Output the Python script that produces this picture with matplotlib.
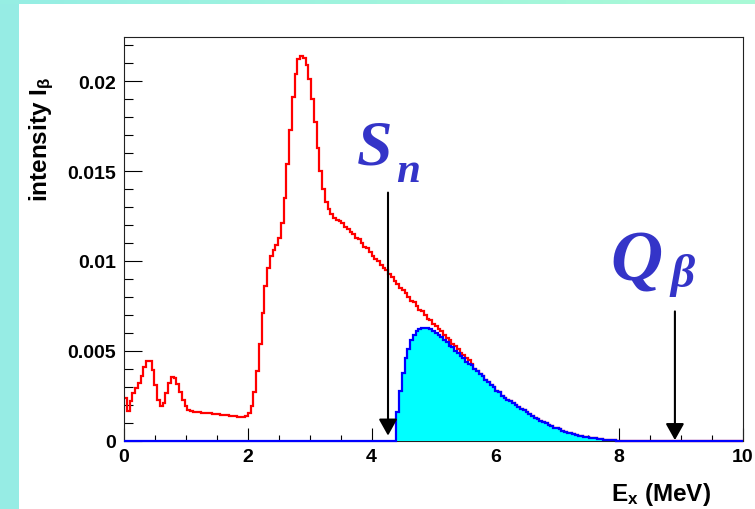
import numpy as np
import matplotlib
matplotlib.use("Agg")
import matplotlib.pyplot as plt
from matplotlib.patches import Rectangle

plt.rcParams['font.family'] = ['Liberation Sans', 'DejaVu Sans']
plt.rcParams['font.weight'] = 'bold'
plt.rcParams['mathtext.fontset'] = 'custom'
plt.rcParams['mathtext.rm'] = 'Liberation Sans:bold'
plt.rcParams['mathtext.bf'] = 'Liberation Sans:bold'
plt.rcParams['mathtext.it'] = 'Liberation Sans:bold'

# histogram binning: 225 bins on 0..10 MeV
n_bins = 225
x_min, x_max = 0.0, 10.0

# red curve (total intensity), bins 0..126
red_low = [0.00237, 0.00169, 0.00224, 0.00265, 0.00293, 0.00322, 0.00363, 0.00413,
           0.00446, 0.00446, 0.00396, 0.00313, 0.0023, 0.00193, 0.00211, 0.00265,
           0.00322, 0.00357, 0.0035, 0.00317, 0.00274, 0.0023, 0.00196]
red_flat = [0.00174, 0.00168, 0.0016, 0.0016, 0.0016, 0.00157, 0.00155, 0.00154,
            0.00153, 0.00152, 0.0015, 0.00148, 0.00146, 0.00144, 0.00143, 0.00141,
            0.0014, 0.00137, 0.00135, 0.00135, 0.00135, 0.0014]
red_rise = [0.00155, 0.00196, 0.0027, 0.0039, 0.0054, 0.0071, 0.0086, 0.0096,
            0.0103, 0.0106, 0.0109, 0.0113]
red_peak = [0.0121, 0.0135, 0.0154, 0.0173, 0.0191, 0.0204, 0.0212, 0.0214,
            0.0213, 0.0209, 0.0201, 0.0190, 0.0177, 0.0163, 0.0150, 0.0140,
            0.0133, 0.0129, 0.0126, 0.0124, 0.0123]
red_slope = [0.0122, 0.0121, 0.0119, 0.0118, 0.0116, 0.0115, 0.0113, 0.0112, 0.0110, 0.0108,
             0.0107, 0.0105, 0.0103, 0.0101, 0.0100, 0.0098, 0.0096, 0.0095, 0.0093, 0.0091,
             0.0089, 0.0087, 0.0085, 0.0084, 0.0082, 0.0080, 0.0078, 0.0077, 0.0075, 0.0073,
             0.0072, 0.0070, 0.0068, 0.0067, 0.0065, 0.0064, 0.0062, 0.0061, 0.0059, 0.0057,
             0.0056, 0.0054, 0.0053, 0.0051, 0.0049, 0.0048, 0.0046, 0.0045, 0.0043]

# blue curve (above Sn), bins 99..180
blue_start = 99
blue_vals = [0.0016, 0.0028, 0.0038, 0.0046, 0.0051, 0.0056, 0.0059, 0.0061, 0.0062, 0.0063,
             0.0063, 0.0063, 0.0062, 0.0061,
             0.0060, 0.0059, 0.0058, 0.0056, 0.0055, 0.0053, 0.0052, 0.0050, 0.0049, 0.0047,
             0.0046, 0.0044, 0.0043, 0.0042, 0.0040, 0.0039, 0.0037, 0.0036, 0.0034, 0.0033,
             0.0031, 0.0030, 0.0028, 0.0027, 0.0025, 0.0024, 0.0023, 0.0022, 0.0021, 0.0020,
             0.0019, 0.0018, 0.0017, 0.0016, 0.0015, 0.0014, 0.0013, 0.0012, 0.0011, 0.00105,
             0.0010, 0.0009, 0.00082, 0.00075, 0.0007, 0.00064, 0.00058, 0.00052, 0.00047, 0.00042,
             0.00038, 0.00034, 0.0003, 0.00027, 0.00024, 0.00021, 0.00019, 0.00017, 0.00014, 0.00012,
             0.0001, 0.00008, 0.00007, 0.00005, 0.00004, 0.00003, 0.00002, 0.00001]

blue = [0.0] * blue_start + blue_vals
blue = blue + [0.0] * (n_bins - len(blue))
red_head = red_low + red_flat + red_rise + red_peak + red_slope
red = red_head + blue[len(red_head):]
edges = np.linspace(x_min, x_max, n_bins + 1)

xticks = [0, 2, 4, 6, 8, 10]
yticks = [0, 0.005, 0.01, 0.015, 0.02]
ytick_labels = ['0', '0.005', '0.01', '0.015', '0.02']

sn_x, sn_top, sn_tip = 4.265, 0.0138, 0.0003
qb_x, qb_top, qb_tip = 8.90, 0.0072, 0.00005

W, H = 755, 510
fig = plt.figure(figsize=(W / 100, H / 100), dpi=100, facecolor='#96ece4')
fig.patches.append(Rectangle((19 / W, 0), 1 - 19 / W, 1 - 5 / H, transform=fig.transFigure,
                             facecolor='white', edgecolor='none', zorder=-5))
# top gradient strip
bg = fig.add_axes([0, 1 - 5 / H, 1, 5 / H], zorder=-4)
grad = np.linspace(0, 1, 256)
c0 = np.array([150, 238, 228]) / 255
c1 = np.array([170, 250, 214]) / 255
bg.imshow((c0[None, :] * (1 - grad[:, None]) + c1[None, :] * grad[:, None])[None, :, :],
          aspect='auto', extent=[0, 1, 0, 1])
bg.axis('off')

ax = fig.add_axes([124 / W, 1 - 442 / H, (743 - 124) / W, (442 - 38) / H], zorder=1)
ax.stairs(red, edges, color='#ff0000', lw=1.6, zorder=2, baseline=None, clip_on=False)
ax.stairs(blue, edges, fill=True, color='#00ffff', zorder=3)
ax.stairs(blue, edges, color='#0000ff', lw=1.6, zorder=4, clip_on=False)

ax.set_xlim(x_min, x_max)
ax.set_ylim(0, 404 / 18000)
ax.set_xticks(xticks)
ax.set_xticks(np.arange(0, 10.01, 0.5), minor=True)
ax.set_yticks(yticks, ytick_labels)
ax.set_yticks(np.arange(0, 0.0224, 0.001), minor=True)
ax.tick_params(axis='x', which='major', direction='in', length=9.5, width=0.8, pad=5, labelsize=14)
ax.tick_params(axis='x', which='minor', direction='in', length=4.5, width=0.8)
ax.tick_params(axis='y', which='major', direction='in', length=13, width=0.8, pad=6, labelsize=14)
ax.tick_params(axis='y', which='minor', direction='in', length=6.5, width=0.8)
for s in ax.spines.values():
    s.set_linewidth(0.8)
    s.set_color('#222222')

arrow = dict(arrowstyle='-|>,head_length=0.5,head_width=0.28', mutation_scale=20,
             lw=1.5, color='black', shrinkA=0, shrinkB=0)
ax.annotate('', xy=(sn_x, sn_tip), xytext=(sn_x, sn_top), arrowprops=arrow, zorder=5)
ax.annotate('', xy=(qb_x, qb_tip), xytext=(qb_x, qb_top), arrowprops=arrow, zorder=5)

lab = dict(family='Liberation Serif', style='italic', weight='bold', color='#3434c8',
           ha='left', va='baseline', clip_on=False)
ax.text(3.76, 0.01539, 'S', fontsize=46, **lab)
ax.text(4.40, 0.01444, 'n', fontsize=31, **lab)
ax.text(7.86, 0.0090, 'Q', fontsize=52, **lab)
ax.text(8.82, 0.0086, 'β', fontsize=34, **lab)

fig.text(28 / W, 1 - 77 / H, r'intensity I$_\beta$', rotation=90, ha='left', va='top',
         fontsize=17.5, weight='bold')
fig.text(711 / W, 1 - 501 / H, r'E$_\mathregular{x}$ (MeV)', ha='right', va='baseline',
         fontsize=17.5, weight='bold')

fig.savefig('out.png', dpi=100, facecolor=fig.get_facecolor())
